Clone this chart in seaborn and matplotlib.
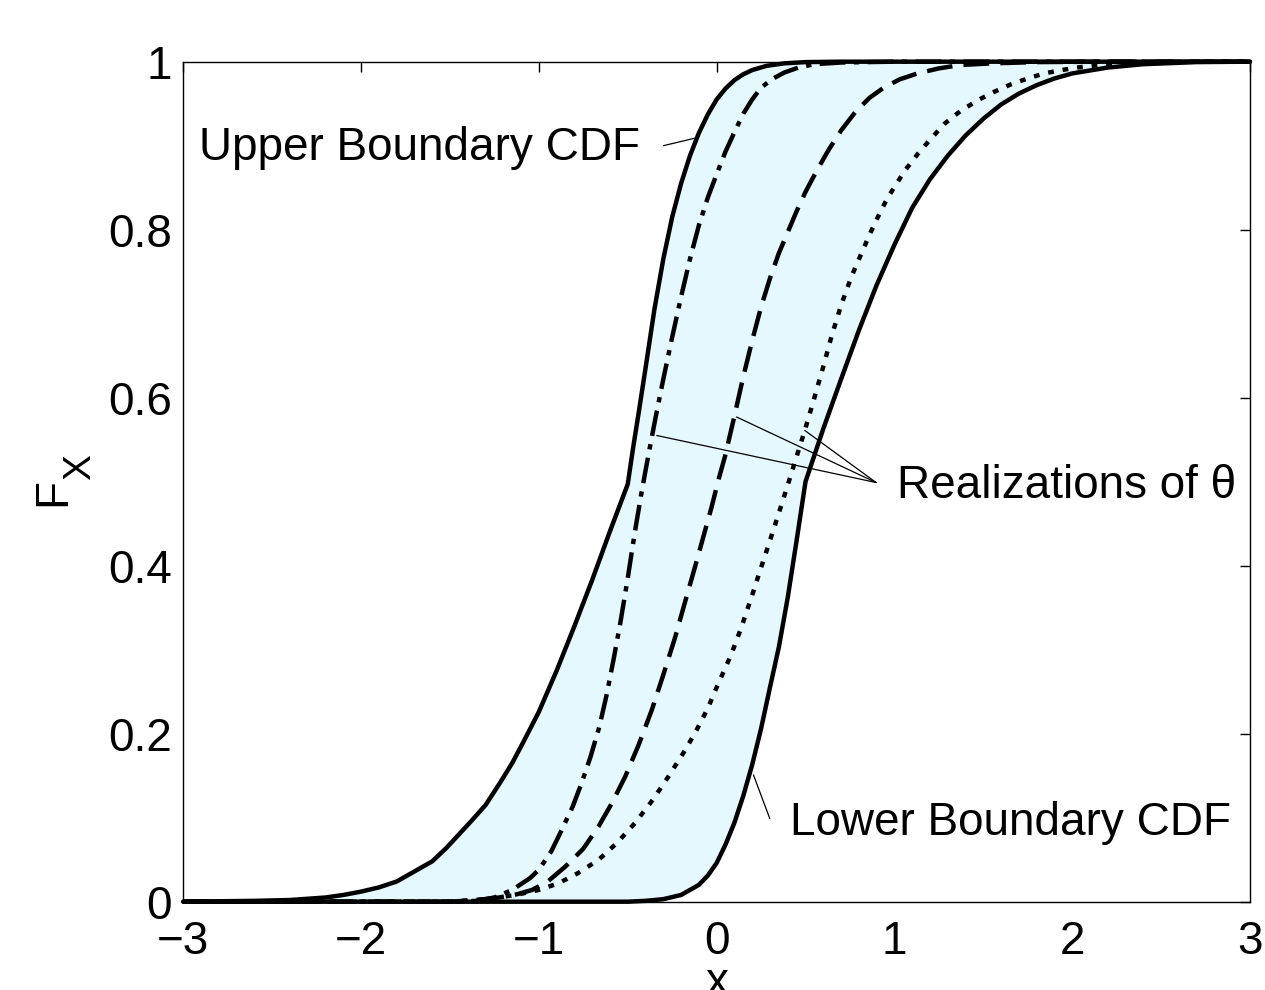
import seaborn as sns
import matplotlib.pyplot as plt

# Upper boundary CDF (solid, left)
upper_x = [-3.0, -2.6, -2.4, -2.2, -2.1, -2.0, -1.9, -1.8, -1.7, -1.6, -1.52, -1.45, -1.38,
           -1.3, -1.22, -1.15, -1.08, -1.0, -0.9, -0.8, -0.7, -0.6, -0.5, -0.47, -0.44, -0.40,
           -0.35, -0.30, -0.25, -0.20, -0.15, -0.10, -0.05, 0.0, 0.05, 0.10, 0.15, 0.20, 0.28,
           0.38, 0.5, 0.7, 3.0]
upper_f = [0.0, 0.001, 0.002, 0.005, 0.008, 0.012, 0.017, 0.024, 0.036, 0.048, 0.064, 0.080,
           0.096, 0.115, 0.141, 0.165, 0.193, 0.226, 0.275, 0.328, 0.383, 0.441, 0.497, 0.54,
           0.58, 0.635, 0.705, 0.765, 0.815, 0.855, 0.888, 0.915, 0.937, 0.955, 0.968, 0.978,
           0.985, 0.990, 0.995, 0.998, 0.9995, 1.0, 1.0]

# Lower boundary CDF (solid, right)
lower_x = [-3.0, -0.5, -0.4, -0.3, -0.2, -0.1, -0.05, 0.0, 0.05, 0.1, 0.15, 0.2, 0.25, 0.3,
           0.35, 0.4, 0.45, 0.5, 0.6, 0.7, 0.8, 0.9, 1.0, 1.1, 1.2, 1.3, 1.4, 1.5, 1.6, 1.7,
           1.8, 1.9, 2.0, 2.2, 2.4, 2.7, 3.0]
lower_f = [0.0, 0.0, 0.001, 0.003, 0.008, 0.020, 0.031, 0.046, 0.068, 0.094, 0.126, 0.163,
           0.206, 0.255, 0.303, 0.362, 0.430, 0.500, 0.563, 0.622, 0.680, 0.734, 0.782, 0.826,
           0.860, 0.888, 0.912, 0.932, 0.949, 0.962, 0.972, 0.980, 0.986, 0.993, 0.997,
           0.9995, 1.0]

# realizations of theta
dashdot_x = [-3.0, -1.45, -1.35, -1.25, -1.15, -1.05, -1.0, -0.93, -0.87, -0.81, -0.76, -0.71,
             -0.66, -0.62, -0.58, -0.54, -0.50, -0.46, -0.42, -0.38, -0.34, -0.30, -0.25, -0.20,
             -0.15, -0.10, -0.05, 0.0, 0.05, 0.10, 0.15, 0.20, 0.25, 0.31, 0.38, 0.46, 0.55,
             0.7, 1.0, 3.0]
dashdot_f = [0.0, 0.0, 0.001, 0.005, 0.014, 0.028, 0.038, 0.060, 0.086, 0.113, 0.141, 0.172,
             0.208, 0.245, 0.288, 0.334, 0.385, 0.440, 0.490, 0.536, 0.580, 0.622, 0.672, 0.720,
             0.765, 0.805, 0.838, 0.866, 0.893, 0.916, 0.938, 0.955, 0.969, 0.979, 0.987,
             0.993, 0.997, 0.999, 1.0, 1.0]

dashed_x = [-3.0, -1.5, -1.35, -1.224, -1.12, -1.038, -0.95, -0.85, -0.75, -0.663, -0.59,
            -0.514, -0.44, -0.365, -0.30, -0.233, -0.18, -0.121, -0.07, -0.028, 0.01, 0.047,
            0.10, 0.15, 0.20, 0.25, 0.30, 0.35, 0.40, 0.45, 0.50, 0.56, 0.63, 0.70, 0.78, 0.86,
            0.94, 1.03, 1.13, 1.25, 1.37, 1.55, 1.8, 2.2, 3.0]
dashed_f = [0.0, 0.0, 0.002, 0.005, 0.009, 0.014, 0.024, 0.042, 0.063, 0.090, 0.117,
            0.149, 0.186, 0.228, 0.270, 0.315, 0.355, 0.399, 0.438, 0.470, 0.502, 0.530,
            0.578, 0.625, 0.668, 0.708, 0.742, 0.772, 0.797, 0.822, 0.845, 0.869, 0.895, 0.918,
            0.940, 0.957, 0.969, 0.979, 0.986, 0.992, 0.996, 0.998, 0.9995, 1.0, 1.0]

dotted_x = [-3.0, -1.5, -1.3, -1.131, -1.0, -0.888, -0.78, -0.663, -0.56, -0.458, -0.36,
            -0.271, -0.19, -0.121, -0.05, 0.010, 0.08, 0.140, 0.20, 0.252, 0.30, 0.346, 0.40,
            0.45, 0.496, 0.55, 0.60, 0.645, 0.70, 0.76, 0.813, 0.86, 0.907, 0.95, 1.0, 1.065,
            1.131, 1.2, 1.281, 1.37, 1.468, 1.56, 1.655, 1.75, 1.842, 1.94, 2.029, 2.15, 2.3,
            2.5, 2.7, 3.0]
dotted_f = [0.0, 0.0, 0.003, 0.008, 0.014, 0.022, 0.034, 0.050, 0.070, 0.094, 0.121,
            0.149, 0.176, 0.201, 0.230, 0.260, 0.293, 0.327, 0.365, 0.399, 0.430, 0.460, 0.496,
            0.530, 0.561, 0.600, 0.637, 0.672, 0.710, 0.745, 0.771, 0.794, 0.815, 0.833, 0.851,
            0.872, 0.890, 0.907, 0.926, 0.941, 0.954, 0.964, 0.973, 0.980, 0.986, 0.990, 0.993,
            0.996, 0.998, 0.9995, 1.0, 1.0]

xticks = [-3, -2, -1, 0, 1, 2, 3]
xticklabels = ['\u22123', '\u22122', '\u22121', '0', '1', '2', '3']
yticks = [0, 0.2, 0.4, 0.6, 0.8, 1]
yticklabels = ['0', '0.2', '0.4', '0.6', '0.8', '1']

sns.set_style("white")
plt.rcParams['font.family'] = ['Liberation Sans', 'DejaVu Sans']
plt.rcParams['text.color'] = 'black'
plt.rcParams['axes.labelcolor'] = 'black'
plt.rcParams['xtick.color'] = 'black'
plt.rcParams['ytick.color'] = 'black'
fs = 33

fig = plt.figure(figsize=(12.65, 9.9), dpi=100)
ax = fig.add_axes([0.1449, 0.0892, 0.8432, 0.8485])

# band between the two boundaries
ax.fill(upper_x + lower_x[::-1], upper_f + lower_f[::-1], color='#E4F8FE', lw=0, zorder=1)

lw = 3.2
sns.lineplot(x=dotted_x, y=dotted_f, ax=ax, color='black', lw=lw, ls=(0, (1.3, 2.0)),
             sort=False, estimator=None, clip_on=False, zorder=3)
sns.lineplot(x=dashed_x, y=dashed_f, ax=ax, color='black', lw=lw, ls=(0, (5.8, 2.5)),
             sort=False, estimator=None, clip_on=False, zorder=3)
sns.lineplot(x=dashdot_x, y=dashdot_f, ax=ax, color='black', lw=lw, ls=(0, (5.8, 1.9, 1.2, 1.9)),
             sort=False, estimator=None, clip_on=False, zorder=3)
sns.lineplot(x=upper_x, y=upper_f, ax=ax, color='black', lw=lw,
             sort=False, estimator=None, clip_on=False, zorder=4)
sns.lineplot(x=lower_x, y=lower_f, ax=ax, color='black', lw=lw,
             sort=False, estimator=None, clip_on=False, zorder=4)

# annotations
line_kw = dict(arrowstyle='-', lw=0.9, color='black', shrinkA=0, shrinkB=0)
ax.annotate('', xy=(-0.121, 0.909), xytext=(-0.299, 0.900), arrowprops=line_kw)
ax.text(-0.43, 0.883, 'Upper Boundary CDF', fontsize=fs, ha='right', va='baseline')

for tip in [(-0.337, 0.555), (0.112, 0.577), (0.496, 0.561)]:
    ax.annotate('', xy=tip, xytext=(0.897, 0.499), arrowprops=line_kw)
ax.text(1.012, 0.480, 'Realizations of \u03b8', fontsize=fs, ha='left', va='baseline')

ax.annotate('', xy=(0.207, 0.151), xytext=(0.299, 0.099), arrowprops=line_kw)
ax.text(0.411, 0.0794, 'Lower Boundary CDF', fontsize=fs, ha='left', va='baseline')

ax.set_xlim(-3, 3)
ax.set_ylim(0, 1)
ax.set_xticks(xticks)
ax.set_xticklabels(xticklabels)
ax.set_yticks(yticks)
ax.set_yticklabels(yticklabels)
ax.tick_params(axis='both', direction='in', length=7, width=1, top=True, right=True,
               labelsize=fs, colors='black')
ax.tick_params(axis='x', pad=13)
ax.tick_params(axis='y', pad=8)
for s in ax.spines.values():
    s.set_visible(True)
    s.set_linewidth(1.0)
    s.set_color('black')

ax.set_xlabel('x', fontsize=fs)
ax.xaxis.set_label_coords(0.5, -0.071)
# F with subscript X
ax.set_ylabel('F', fontsize=fs)
ax.yaxis.set_label_coords(-0.101, 0.488)
ax.text(-0.080, 0.518, 'X', fontsize=28, rotation=90, ha='right', va='center',
        transform=ax.transAxes)

fig.savefig('out.png', dpi=100)
